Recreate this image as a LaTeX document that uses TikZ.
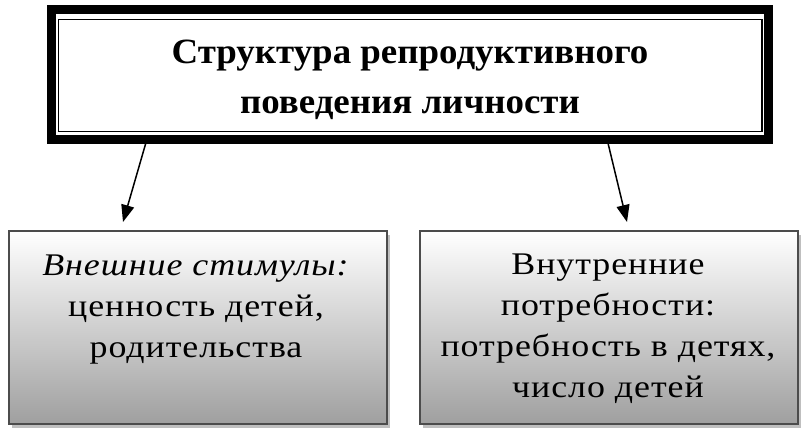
\documentclass[tikz,border=0pt]{standalone}
\usepackage{fontspec}
\setmainfont{Liberation Serif}
\newfontfamily\titlefont{Liberation Serif}[FakeStretch=1.04]
\newfontfamily\bodyfont{Liberation Serif}[FakeStretch=1.14,LetterSpace=3]
\usetikzlibrary{arrows.meta,shadows}
\tikzset{
  arr/.style={line width=1.5pt,-{Triangle[length=17pt,width=13pt]}},
  gbox/.style={draw=black!70, line width=1.2pt, top color=white, bottom color=gray!75,
    minimum width=378pt, minimum height=193pt, inner sep=0pt,
    drop shadow={shadow xshift=2.5pt, shadow yshift=-3.5pt, fill=black!25, opacity=1}},
  btext/.style={align=center, font=\bodyfont\fontsize{31.5}{40.7}\selectfont, inner sep=0pt},
}
\begin{document}
\begin{tikzpicture}[x=1pt,y=1pt]
\useasboundingbox (0,0) rectangle (808,-436);
\fill[white] (0,0) rectangle (808,-436);
% title box
\node (top) [draw, line width=9pt, minimum width=717pt, minimum height=129pt, inner sep=0pt] at (410,-74.5) {};
\draw[line width=1.5pt] (58.5,-19.5) rectangle (762,-131.5);
\node (title) [anchor=base, align=center, inner sep=0pt,
  font=\titlefont\bfseries\fontsize{35.5}{50}\selectfont] at (410,-113)
  {Структура репродуктивного\\поведения личности};
% lower boxes
\node (lbox) [gbox] at (198,-327.5) {};
\node (rbox) [gbox] at (609,-327.5) {};
\node (ltext) [btext, anchor=base] at (196,-357) {\textit{Внешние стимулы:}\\ценность детей,\\родительства};
\node (rtext) [btext, anchor=base] at (608,-397) {Внутренние\\потребности:\\потребность в детях,\\число детей};
% arrows
\coordinate (s1) at (147,-139);
\coordinate (t1) at (123,-222);
\coordinate (s2) at (607,-139);
\coordinate (t2) at (627,-222);
\draw[arr] (s1) -- (t1);
\draw[arr] (s2) -- (t2);
\end{tikzpicture}
\end{document}
